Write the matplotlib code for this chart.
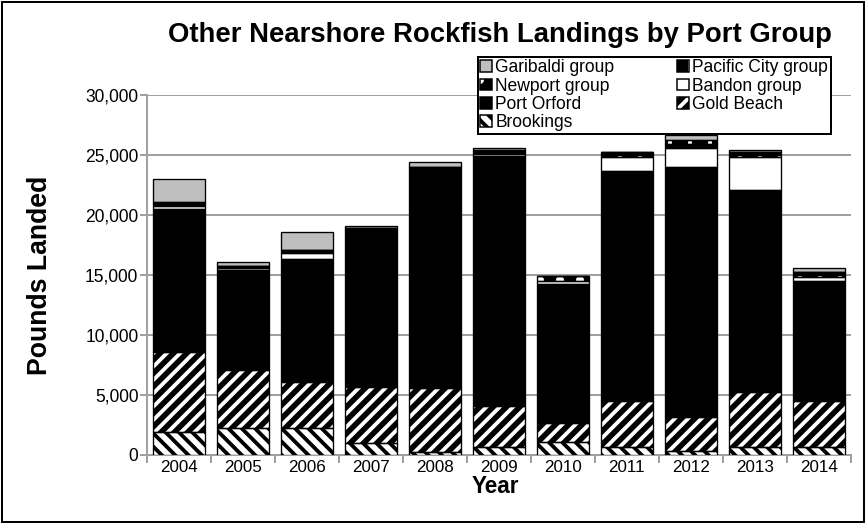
import matplotlib
matplotlib.use("Agg")
import matplotlib.pyplot as plt
from matplotlib.patches import Patch, Rectangle
from matplotlib.legend_handler import HandlerTuple
from matplotlib.ticker import FuncFormatter, FixedLocator
import numpy as np

plt.rcParams['font.family'] = ['Liberation Sans', 'DejaVu Sans']
plt.rcParams['hatch.linewidth'] = 2.3

years = ['2004', '2005', '2006', '2007', '2008', '2009', '2010', '2011', '2012', '2013', '2014']

# Pounds landed by port group, stacked south (bottom) to north (top)
brookings    = [1950, 2280, 2280,   970,   280,   640, 1060,   640,   360,   640,  640]
gold_beach   = [6670, 4800, 3780,  4670,  5280,  3440, 1640,  3860,  2780,  4640, 3890]
port_orford  = [11860, 8340, 10270, 13150, 18360, 20820, 11550, 19140, 20860, 16830, 9950]
bandon       = [300,  190,  490,     0,     0,   220,  280,  1190,  1580,  2760,  360]
newport      = [230,  140,  250,   100,   100,   200,  420,   420,   330,   400,  420]
pacific_city = [50,     0,    0,     0,     0,   100,    0,     0,   300,     0,    0]
garibaldi    = [1940, 360, 1540,   220,   420,   180,    0,     0,   470,   150,  300]

# (label, values, face colour, hatch, hatch colour)
series = [
    ('Brookings',          brookings,    'white',   '\\\\\\', 'black'),
    ('Gold Beach',         gold_beach,   'black',   '///',    'white'),
    ('Port Orford',        port_orford,  'black',   '',       'black'),
    ('Bandon group',       bandon,       'white',   '',       'black'),
    ('Newport group',      newport,      'black',   '.',      'white'),
    ('Pacific City group', pacific_city, 'black',   '|',      'white'),
    ('Garibaldi group',    garibaldi,    '#BFBFBF', '',       'black'),
]

DPI = 120
fig = plt.figure(figsize=(867 / DPI, 524 / DPI), dpi=DPI)
ax = fig.add_axes([0.1692, 0.1317, 0.812, 0.687])

x = np.arange(len(years))
width = 0.81
bottom = np.zeros(len(years))
handles = {}
for label, vals, face, hatch, hcol in series:
    vals = np.array(vals, dtype=float)
    ax.bar(x, vals, width, bottom=bottom, color=face, hatch=hatch,
           edgecolor=hcol, linewidth=0, zorder=3)
    ax.bar(x, vals, width, bottom=bottom, fill=False,
           edgecolor='black', linewidth=0.8, zorder=4)
    handles[label] = (Patch(facecolor=face, hatch=hatch, edgecolor=hcol, linewidth=0),
                      Patch(fill=False, edgecolor='black', linewidth=0.9))
    bottom += vals

ax.set_xlim(-0.5, len(years) - 0.5)
ax.set_ylim(0, 30000)
ax.set_yticks(np.arange(0, 30001, 5000))
ax.yaxis.set_major_formatter(FuncFormatter(lambda v, p: f'{int(v):,}'))
ax.set_xticks(x)
ax.set_xticklabels(years)
ax.xaxis.set_minor_locator(FixedLocator(np.arange(-0.5, len(years), 1.0)))

grid_col = '#A0A0A0'
ax.grid(axis='y', color=grid_col, linewidth=1.2, zorder=0)
ax.set_axisbelow(True)
for s in ['top', 'right']:
    ax.spines[s].set_visible(False)
for s in ['left', 'bottom']:
    ax.spines[s].set_color(grid_col)
    ax.spines[s].set_linewidth(1.2)

ax.tick_params(axis='y', length=4, width=1.2, color=grid_col, labelsize=10.5, pad=1)
ax.tick_params(axis='x', which='major', length=0, labelsize=10.2, pad=3)
ax.tick_params(axis='x', which='minor', length=5, width=1.2, color=grid_col)

fig.text(0.577, 0.933, 'Other Nearshore Rockfish Landings by Port Group',
         ha='center', va='center', fontsize=16.5, fontweight='bold')
fig.text(0.571, 0.071, 'Year', ha='center', va='center', fontsize=13.5, fontweight='bold')
fig.text(0.046, 0.475, 'Pounds Landed', ha='center', va='center', rotation=90,
         fontsize=16, fontweight='bold')

order = ['Garibaldi group', 'Newport group', 'Port Orford', 'Brookings',
         'Pacific City group', 'Bandon group', 'Gold Beach']
leg = fig.legend([handles[n] for n in order], order, ncol=2, loc='upper left',
                 bbox_to_anchor=(0.551, 0.892), fontsize=10.5, frameon=True,
                 fancybox=False, edgecolor='black', framealpha=1,
                 handlelength=0.65, handleheight=0.65, handletextpad=0.2,
                 labelspacing=0.08, columnspacing=3.6, borderpad=0.15,
                 borderaxespad=0,
                 handler_map={tuple: HandlerTuple(ndivide=1, pad=0)})
leg.get_frame().set_linewidth(1.2)

fig.patches.append(Rectangle((0.002, 0.003), 0.995, 0.994, transform=fig.transFigure,
                             fill=False, edgecolor='black', linewidth=1.2))

fig.savefig('out.png', dpi=DPI)
